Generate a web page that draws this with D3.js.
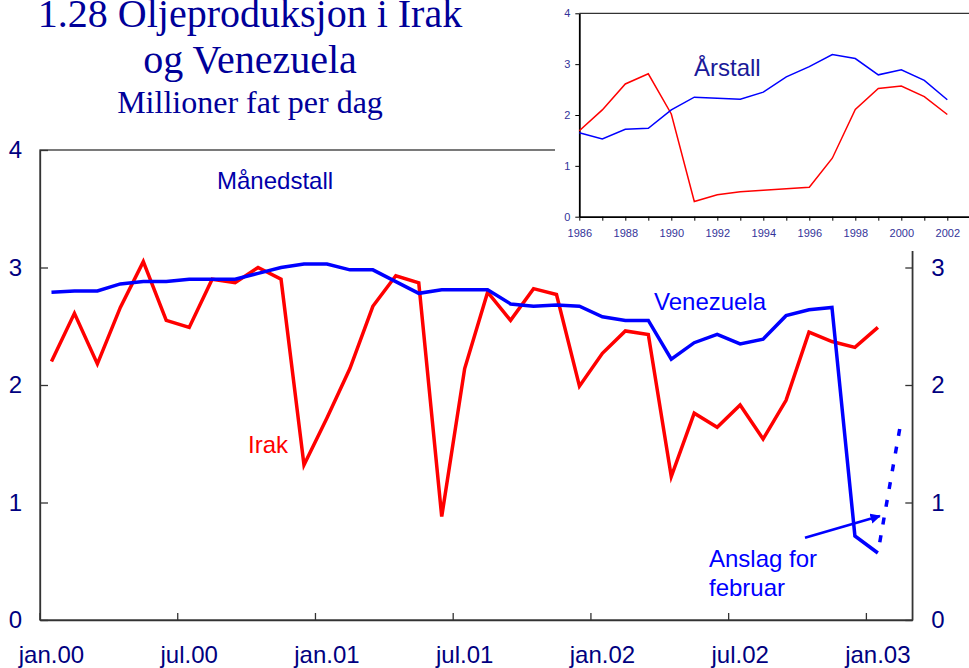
<!DOCTYPE html>
<html>
<head>
<meta charset="utf-8">
<script src="https://cdn.jsdelivr.net/npm/d3@7"></script>
<style>
  body { margin: 0; background: #fff; }
  svg { display: block; }
</style>
</head>
<body>
<svg id="chart" width="969" height="668"></svg>
<script>
// monthly data, jan.00 - feb.03 (mill. fat per dag)
var months = ["jan.00","feb.00","mar.00","apr.00","mai.00","jun.00","jul.00","aug.00","sep.00","okt.00","nov.00","des.00",
              "jan.01","feb.01","mar.01","apr.01","mai.01","jun.01","jul.01","aug.01","sep.01","okt.01","nov.01","des.01",
              "jan.02","feb.02","mar.02","apr.02","mai.02","jun.02","jul.02","aug.02","sep.02","okt.02","nov.02","des.02",
              "jan.03","feb.03"];
var monthTicks = ["jan.00","jul.00","jan.01","jul.01","jan.02","jul.02","jan.03"];

var irak = [2.20, 2.61, 2.18, 2.66, 3.05, 2.55, 2.49, 2.90, 2.87, 3.00, 2.90, 1.32,
            1.72, 2.14, 2.67, 2.93, 2.87, 0.88, 2.14, 2.79, 2.55, 2.82, 2.77, 1.99,
            2.27, 2.46, 2.43, 1.22, 1.76, 1.64, 1.83, 1.54, 1.87, 2.45, 2.37, 2.32,
            2.49, null];
var venezuela = [2.79, 2.80, 2.80, 2.86, 2.88, 2.88, 2.90, 2.90, 2.90, 2.95, 3.00, 3.03,
                 3.03, 2.98, 2.98, 2.88, 2.78, 2.81, 2.81, 2.81, 2.69, 2.67, 2.68, 2.67,
                 2.58, 2.55, 2.55, 2.22, 2.36, 2.43, 2.35, 2.39, 2.59, 2.64, 2.66, 0.715,
                 0.57, null];
// estimate for february (dotted)
var venezuelaAnslag = [["jan.03", 0.57], ["feb.03", 1.68]];

// annual data (inset)
var years = [1986,1987,1988,1989,1990,1991,1992,1993,1994,1995,1996,1997,1998,1999,2000,2001,2002];
var irakYear = [1.69, 2.10, 2.61, 2.81, 2.02, 0.30, 0.43, 0.49, 0.52, 0.55, 0.58, 1.15, 2.11, 2.52, 2.57, 2.36, 2.01];
var venezuelaYear = [1.65, 1.53, 1.72, 1.74, 2.10, 2.35, 2.33, 2.31, 2.45, 2.75, 2.95, 3.19, 3.11, 2.79, 2.89, 2.68, 2.30];

var yTicks = [0, 1, 2, 3, 4];

var sans = "'Liberation Sans', Arial, sans-serif";
var serif = "'Liberation Serif', 'Times New Roman', serif";
var navy = "#000080";

var svg = d3.select("#chart");

// ---- title
var title = svg.append("g")
	.attr("fill", "#000099")
	.attr("font-family", serif)
	.attr("text-anchor", "middle");
title.append("text").attr("x", 250).attr("y", 27).attr("font-size", 40).text("1.28 Oljeproduksjon i Irak");
title.append("text").attr("x", 250).attr("y", 73).attr("font-size", 40).text("og Venezuela");
title.append("text").attr("x", 250).attr("y", 113).attr("font-size", 32).text("Millioner fat per dag");

// ---- main chart
var plotLeft = 40, plotRight = 912.3, plotTop = 150, plotBottom = 620;

var x = d3.scaleBand().domain(months).range([plotLeft, plotRight]).padding(0);
var cx = function(m) { return x(m) + x.bandwidth() / 2; };
var y = d3.scaleLinear().domain([0, 4]).range([plotBottom, plotTop]);

svg.append("rect")
	.attr("x", plotLeft).attr("y", plotTop)
	.attr("width", plotRight - plotLeft).attr("height", plotBottom - plotTop)
	.attr("fill", "none")
	.attr("stroke", "#333")
	.attr("stroke-width", 1.3);

var leftAxis = svg.append("g")
	.attr("transform", "translate(" + plotLeft + ",0)")
	.call(d3.axisLeft(y).tickValues(yTicks).tickFormat(d3.format("d")).tickSize(-8).tickSizeOuter(0).tickPadding(18));

var rightAxis = svg.append("g")
	.attr("transform", "translate(" + plotRight + ",0)")
	.call(d3.axisRight(y).tickValues(yTicks).tickFormat(d3.format("d")).tickSize(-7).tickSizeOuter(0).tickPadding(19));

var bottomAxis = svg.append("g")
	.attr("transform", "translate(0," + plotBottom + ")")
	.call(d3.axisBottom(x).tickValues(monthTicks).tickSize(0).tickSizeOuter(0).tickPadding(26));

[leftAxis, rightAxis, bottomAxis].forEach(function(g) {
	g.select(".domain").attr("stroke", "#333").attr("stroke-width", 1.3);
	g.selectAll(".tick line").attr("stroke", "#333").attr("stroke-width", 1.3);
	g.selectAll("text").attr("font-family", sans).attr("font-size", 24).attr("fill", navy);
});

// category tick marks sit on the period boundaries
svg.append("g").selectAll("line")
	.data(monthTicks)
	.enter()
	.append("line")
	.attr("x1", function(d) { return x(d); })
	.attr("x2", function(d) { return x(d); })
	.attr("y1", plotBottom)
	.attr("y2", plotBottom - 7)
	.attr("stroke", "#333")
	.attr("stroke-width", 1.3);

var line = d3.line()
	.defined(function(d) { return d[1] != null; })
	.x(function(d) { return cx(d[0]); })
	.y(function(d) { return y(d[1]); });

function pairs(values) {
	return months.map(function(m, i) { return [m, values[i]]; });
}

svg.append("path")
	.datum(pairs(irak))
	.attr("d", line)
	.attr("fill", "none")
	.attr("stroke", "#ff0000")
	.attr("stroke-width", 3.5);

svg.append("path")
	.datum(pairs(venezuela))
	.attr("d", line)
	.attr("fill", "none")
	.attr("stroke", "#0000ff")
	.attr("stroke-width", 3.5);

svg.append("path")
	.datum(venezuelaAnslag)
	.attr("d", line)
	.attr("fill", "none")
	.attr("stroke", "#0000ff")
	.attr("stroke-width", 3.5)
	.attr("stroke-dasharray", "7,11")
	.attr("stroke-dashoffset", 7);

// labels
svg.append("text").attr("x", 217).attr("y", 189).attr("font-family", sans).attr("font-size", 24).attr("fill", "#0000aa").text("Månedstall");
svg.append("text").attr("x", 654).attr("y", 310).attr("font-family", sans).attr("font-size", 24).attr("fill", "#0000ff").text("Venezuela");
svg.append("text").attr("x", 248).attr("y", 453).attr("font-family", sans).attr("font-size", 24).attr("fill", "#ff0000").text("Irak");
svg.append("text").attr("x", 709).attr("y", 567).attr("font-family", sans).attr("font-size", 24).attr("fill", "#0000ff").text("Anslag for");
svg.append("text").attr("x", 709).attr("y", 596).attr("font-family", sans).attr("font-size", 24).attr("fill", "#0000ff").text("februar");

// arrow to the estimate
svg.append("defs").append("marker")
	.attr("id", "head")
	.attr("viewBox", "0 0 10 10")
	.attr("refX", 9).attr("refY", 5)
	.attr("markerWidth", 4).attr("markerHeight", 4)
	.attr("orient", "auto")
	.append("path")
	.attr("d", "M0,0L10,5L0,10z")
	.attr("fill", "#0000ff");

svg.append("line")
	.attr("x1", cx("okt.02") - 4).attr("y1", y(0.70))
	.attr("x2", cx("jan.03") + 2).attr("y2", y(0.885))
	.attr("stroke", "#0000ff")
	.attr("stroke-width", 2.6)
	.attr("marker-end", "url(#head)");

// ---- inset with annual figures
svg.append("rect")
	.attr("x", 555).attr("y", 0)
	.attr("width", 414).attr("height", 251)
	.attr("fill", "#fff");

var ix = d3.scaleLinear().domain([1986, 2003]).range([579.3, 970.3]);
var iy = d3.scaleLinear().domain([0, 4]).range([216.7, 13.3]);

svg.append("line")
	.attr("x1", ix(1986)).attr("x2", ix(2003))
	.attr("y1", iy(4)).attr("y2", iy(4))
	.attr("stroke", "#000").attr("stroke-width", 1);

var ixAxis = svg.append("g")
	.attr("transform", "translate(0," + iy(0) + ")")
	.call(d3.axisBottom(ix).tickValues(d3.range(1986, 2004))
		.tickFormat(function(d) { return d % 2 === 0 ? d : ""; })
		.tickSize(4).tickSizeOuter(0).tickPadding(9));

var iyAxis = svg.append("g")
	.attr("transform", "translate(" + ix(1986) + ",0)")
	.call(d3.axisLeft(iy).tickValues(yTicks).tickFormat(d3.format("d")).tickSize(4).tickSizeOuter(0).tickPadding(5));

[ixAxis, iyAxis].forEach(function(g) {
	g.select(".domain").attr("stroke", "#000").attr("stroke-width", 1.8);
	g.selectAll(".tick line").attr("stroke", "#000").attr("stroke-width", 1);
	g.selectAll("text").attr("font-family", sans).attr("font-size", 11).attr("fill", "#333399");
});

var iline = d3.line()
	.x(function(d) { return ix(d[0]); })
	.y(function(d) { return iy(d[1]); });

svg.append("path")
	.datum(years.map(function(yr, i) { return [yr, irakYear[i]]; }))
	.attr("d", iline)
	.attr("fill", "none")
	.attr("stroke", "#ff0000")
	.attr("stroke-width", 1.5);

svg.append("path")
	.datum(years.map(function(yr, i) { return [yr, venezuelaYear[i]]; }))
	.attr("d", iline)
	.attr("fill", "none")
	.attr("stroke", "#0000ff")
	.attr("stroke-width", 1.5);

svg.append("text").attr("x", 694).attr("y", 76).attr("font-family", sans).attr("font-size", 24).attr("fill", "#1a1a99").text("Årstall");
</script>
</body>
</html>
